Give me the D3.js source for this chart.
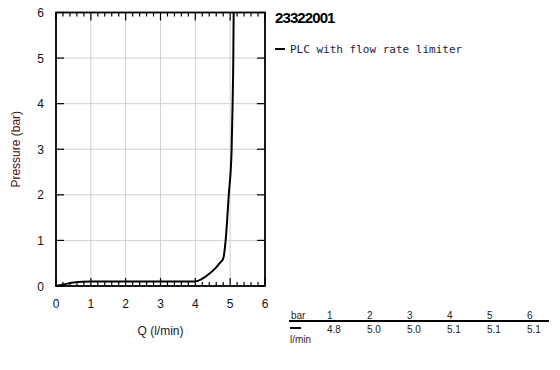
<!DOCTYPE html>
<meta charset="utf-8">
<style>
body { margin: 0; background: #fff; }
svg text { font-family: Arial, "Liberation Sans", sans-serif; }
.grid line { stroke: #d0d0d0; stroke-width: 1px; }
.tick-label { font-size: 12px; fill: #111; }
.mono { font-family: "DejaVu Sans Mono", monospace; }
</style>
<div id="chart"></div>
<script src="https://cdn.jsdelivr.net/npm/d3@7"></script>
<script>

// curve
var flowQ    = [0, 0.25, 0.5, 0.75, 1.0, 4.0, 4.2, 4.4, 4.6, 4.7, 4.8, 4.87, 4.96, 5.04, 5.07, 5.09, 5.1];
var pressure = [0, 0.04, 0.075, 0.095, 0.1, 0.1, 0.16, 0.27, 0.41, 0.5, 0.6, 1.0, 2.0, 2.95, 4.0, 5.0, 6.0];

// table under legend
var tableBar  = [1, 2, 3, 4, 5, 6];
var tableFlow = ["4.8", "5.0", "5.0", "5.1", "5.1", "5.1"];

var xTicks = [0, 1, 2, 3, 4, 5, 6];
var yTicks = [0, 1, 2, 3, 4, 5, 6];

var title = "23322001";
var seriesName = "PLC with flow rate limiter";

var width = 560, height = 370;
// NB: "top" is read-only on window, so prefixed names
var pLeft = 56, pRight = 265, pTop = 12.5, pBottom = 286;

var svg = d3.select("#chart").append("svg")
    .attr("width", width)
    .attr("height", height);

var x = d3.scaleLinear().domain([0, 6]).range([pLeft, pRight]);
var y = d3.scaleLinear().domain([0, 6]).range([pBottom, pTop]);

// grid
var grid = svg.append("g").attr("class", "grid");
grid.selectAll("line.v").data(xTicks.slice(1, -1)).enter().append("line")
    .attr("x1", d => x(d)).attr("x2", d => x(d))
    .attr("y1", pTop).attr("y2", pBottom);
grid.selectAll("line.h").data(yTicks.slice(1, -1)).enter().append("line")
    .attr("y1", d => y(d)).attr("y2", d => y(d))
    .attr("x1", pLeft).attr("x2", pRight);

// inward ticks: minor every 0.2 on top/bottom, majors all sides
var minor = d3.range(0, 30).map(i => i * 0.2).filter(v => Math.abs(v - Math.round(v)) > 0.01);
var ticks = svg.append("g").attr("stroke", "#000").attr("stroke-width", 1.2);
minor.forEach(function(v) {
    ticks.append("line").attr("x1", x(v)).attr("x2", x(v)).attr("y1", pBottom).attr("y2", pBottom - 4);
    ticks.append("line").attr("x1", x(v)).attr("x2", x(v)).attr("y1", pTop).attr("y2", pTop + 4);
});
xTicks.forEach(function(v) {
    ticks.append("line").attr("x1", x(v)).attr("x2", x(v)).attr("y1", pBottom).attr("y2", pBottom - 8);
    ticks.append("line").attr("x1", x(v)).attr("x2", x(v)).attr("y1", pTop).attr("y2", pTop + 8);
});
yTicks.forEach(function(v) {
    ticks.append("line").attr("y1", y(v)).attr("y2", y(v)).attr("x1", pLeft).attr("x2", pLeft + 8);
    ticks.append("line").attr("y1", y(v)).attr("y2", y(v)).attr("x1", pRight).attr("x2", pRight - 8);
});

// frame
svg.append("rect")
    .attr("x", pLeft).attr("y", pTop)
    .attr("width", pRight - pLeft).attr("height", pBottom - pTop)
    .attr("fill", "none").attr("stroke", "#000").attr("stroke-width", 1.8);

// tick labels
svg.selectAll("text.xl").data(xTicks).enter().append("text")
    .attr("class", "tick-label")
    .attr("x", d => x(d)).attr("y", 308)
    .attr("text-anchor", "middle")
    .text(d => d);
svg.selectAll("text.yl").data(yTicks).enter().append("text")
    .attr("class", "tick-label")
    .attr("x", 44).attr("y", d => y(d) + 4.5)
    .attr("text-anchor", "end")
    .text(d => d);

// axis titles
svg.append("text")
    .attr("x", (pLeft + pRight) / 2).attr("y", 335)
    .attr("text-anchor", "middle")
    .attr("font-size", 12).attr("fill", "#1a1a2a")
    .text("Q (l/min)");
svg.append("text")
    .attr("transform", `translate(20,${(pTop + pBottom) / 2}) rotate(-90)`)
    .attr("text-anchor", "middle")
    .attr("font-size", 12).attr("fill", "#4a1010")
    .text("Pressure (bar)");

// curve
var pts = flowQ.map((q, i) => [q, pressure[i]]);
var line = d3.line().x(d => x(d[0])).y(d => y(d[1])).curve(d3.curveMonotoneX);
svg.append("path")
    .datum(pts)
    .attr("d", line)
    .attr("fill", "none")
    .attr("stroke", "#000")
    .attr("stroke-width", 2);

// title + legend
svg.append("text")
    .attr("x", 275).attr("y", 23)
    .attr("font-size", 15).attr("font-weight", "bold")
    .attr("letter-spacing", -0.9)
    .text(title);
svg.append("line")
    .attr("x1", 275).attr("x2", 285).attr("y1", 49).attr("y2", 49)
    .attr("stroke", "#000").attr("stroke-width", 2);
svg.append("text")
    .attr("class", "mono")
    .attr("x", 290).attr("y", 53)
    .attr("font-size", 11).attr("fill", "#1c1c3c")
    .text(seriesName);

// table
var colX = d3.scalePoint().domain(tableBar).range([327, 527]);
var tbl = svg.append("g").attr("font-size", 10).attr("fill", "#222");
tbl.append("text").attr("x", 291).attr("y", 319).text("bar");
tbl.selectAll("text.h").data(tableBar).enter().append("text")
    .attr("x", d => colX(d)).attr("y", 319).text(d => d);
tbl.append("line")
    .attr("x1", 289).attr("x2", 549).attr("y1", 321).attr("y2", 321)
    .attr("stroke", "#000").attr("stroke-width", 2);
tbl.append("line")
    .attr("x1", 290).attr("x2", 301).attr("y1", 328).attr("y2", 328)
    .attr("stroke", "#000").attr("stroke-width", 2);
tbl.selectAll("text.v").data(tableFlow).enter().append("text")
    .attr("x", (d, i) => colX(tableBar[i])).attr("y", 333).text(d => d);
tbl.append("text").attr("x", 290).attr("y", 343).attr("fill", "#4a1a1a").text("l/min");

</script>
